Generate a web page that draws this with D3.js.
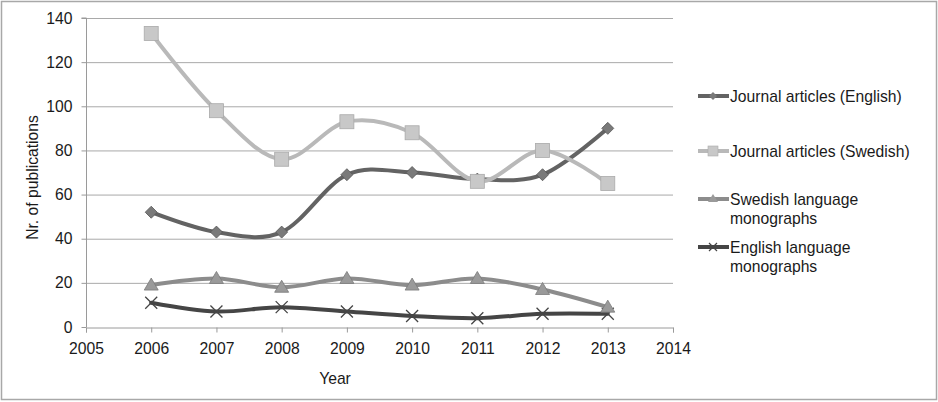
<!DOCTYPE html>
<html><head><meta charset="utf-8">
<script src="https://cdn.jsdelivr.net/npm/d3@7"></script>
<style>body{margin:0;background:#fff}svg{display:block;font-family:"Liberation Sans",Arial,sans-serif}</style>
</head><body>
<svg id="c" width="938" height="402"></svg>
<script>
const years = [2006, 2007, 2008, 2009, 2010, 2011, 2012, 2013];
const journalEnglish = [52, 43, 43, 69, 70, 67, 69, 90];
const journalSwedish = [133, 98, 76, 93, 88, 66, 80, 65];
const swedishMonographs = [19, 22, 18, 22, 19, 22, 17, 9];
const englishMonographs = [11, 7, 9, 7, 5, 4, 6, 6];
const xTicks = [2005, 2006, 2007, 2008, 2009, 2010, 2011, 2012, 2013, 2014];
const yTicks = [0, 20, 40, 60, 80, 100, 120, 140];
const seriesNames = [["Journal articles (English)"], ["Journal articles (Swedish)"], ["Swedish language", "monographs"], ["English language", "monographs"]];

const FS = 15.7;
const series = [
  {name: seriesNames[0], values: journalEnglish, color: "#636363", fill: "#7a7a7a", marker: "diamond"},
  {name: seriesNames[1], values: journalSwedish, color: "#b9b9b9", fill: "#c8c8c8", marker: "square"},
  {name: seriesNames[2], values: swedishMonographs, color: "#8c8c8c", fill: "#9a9a9a", marker: "triangle"},
  {name: seriesNames[3], values: englishMonographs, color: "#454545", fill: "#454545", marker: "x"}
];

const svg = d3.select("#c");
svg.append("rect").attr("x", 1.5).attr("y", 1.5).attr("width", 935).attr("height", 398)
  .attr("fill", "#fff").attr("stroke", "#a8a8a8").attr("stroke-width", 1.5);

const x = d3.scaleLinear().domain([2005, 2014]).range([86, 673]);
const y = d3.scaleLinear().domain([0, 140]).range([327, 18]);

svg.append("g").selectAll("line").data(yTicks.filter(d => d > 0)).join("line")
  .attr("x1", x(2005)).attr("x2", x(2014)).attr("y1", d => y(d) + 0.5).attr("y2", d => y(d) + 0.5)
  .attr("stroke", "#a9a9a9").attr("stroke-width", 1);

const yAxis = svg.append("g").attr("transform", `translate(${x(2005) + 0.5},0)`)
  .call(d3.axisLeft(y).tickValues(yTicks).tickSize(5).tickPadding(9).tickFormat(d3.format("d")));
const xAxis = svg.append("g").attr("transform", `translate(0,${y(0) + 0.5})`)
  .call(d3.axisBottom(x).tickValues(xTicks).tickSize(5).tickPadding(10).tickFormat(d3.format("d")));
[yAxis, xAxis].forEach(a => {
  a.select(".domain").attr("stroke", "#9a9a9a").attr("stroke-width", 1);
  a.selectAll(".tick line").attr("stroke", "#9a9a9a");
  a.selectAll("text").attr("fill", "#1a1a1a").attr("font-size", FS).attr("font-family", "Liberation Sans, Arial, sans-serif");
});
yAxis.select(".domain").attr("d", `M-5,${y(140)}H0V${y(0)}`);

svg.append("text").attr("transform", `translate(38,${(y(0)+y(140))/2 + 5}) rotate(-90)`)
  .attr("text-anchor", "middle").attr("font-size", FS).attr("fill", "#1a1a1a").text("Nr. of publications");
svg.append("text").attr("x", 335).attr("y", 384).attr("text-anchor", "middle")
  .attr("font-size", FS).attr("fill", "#1a1a1a").text("Year");

const line = d3.line().x((d, i) => x(years[i])).y(d => y(d)).curve(d3.curveCatmullRom.alpha(0));

function drawMarker(g, type, cx, cy, fill, color) {
  if (type === "diamond") {
    g.append("path").attr("d", `M${cx},${cy-6}L${cx+6},${cy}L${cx},${cy+6}L${cx-6},${cy}Z`)
      .attr("fill", fill).attr("stroke", "#555").attr("stroke-width", 0.8);
  } else if (type === "square") {
    g.append("rect").attr("x", cx-7).attr("y", cy-7).attr("width", 14).attr("height", 14)
      .attr("fill", fill).attr("stroke", "#aaa").attr("stroke-width", 0.8);
  } else if (type === "triangle") {
    g.append("path").attr("d", `M${cx},${cy-7}L${cx+7},${cy+5}L${cx-7},${cy+5}Z`)
      .attr("fill", fill).attr("stroke", "#7a7a7a").attr("stroke-width", 0.8);
  } else {
    g.append("path").attr("d", `M${cx-6},${cy-6}L${cx+6},${cy+6}M${cx-6},${cy+6}L${cx+6},${cy-6}`)
      .attr("stroke", color).attr("stroke-width", 1.3).attr("fill", "none");
  }
}

const order = [3, 2, 0, 1];
order.forEach(si => {
  const s = series[si];
  const g = svg.append("g");
  g.append("path").attr("d", line(s.values)).attr("fill", "none")
    .attr("stroke", s.color).attr("stroke-width", 4).attr("stroke-linecap", "round");
  s.values.forEach((v, i) => drawMarker(g, s.marker, x(years[i]), y(v), s.fill, s.color));
});

const legY = [96, 151, 199, 247];
series.forEach((s, i) => {
  const g = svg.append("g");
  const ly = legY[i];
  g.append("line").attr("x1", 698).attr("x2", 729).attr("y1", ly).attr("y2", ly)
    .attr("stroke", s.color).attr("stroke-width", 4);
  if (s.marker === "square") {
    g.append("rect").attr("x", 708).attr("y", ly-5).attr("width", 10).attr("height", 10)
      .attr("fill", s.fill).attr("stroke", "#aaa").attr("stroke-width", 0.6);
  } else if (s.marker === "diamond") {
    g.append("path").attr("d", `M713,${ly-4}L717,${ly}L713,${ly+4}L709,${ly}Z`).attr("fill", s.fill);
  } else if (s.marker === "triangle") {
    g.append("path").attr("d", `M713,${ly-5}L718,${ly+3}L708,${ly+3}Z`).attr("fill", s.fill);
  } else {
    g.append("path").attr("d", `M709,${ly-4}L717,${ly+4}M709,${ly+4}L717,${ly-4}`).attr("stroke", s.color).attr("stroke-width", 1.2);
  }
  const t = g.append("text").attr("x", 730).attr("y", ly + 5.5).attr("font-size", FS).attr("fill", "#1a1a1a");
  s.name.forEach((n, j) => t.append("tspan").attr("x", 730).attr("dy", j === 0 ? 0 : 19).text(n));
});
</script>
</body></html>
